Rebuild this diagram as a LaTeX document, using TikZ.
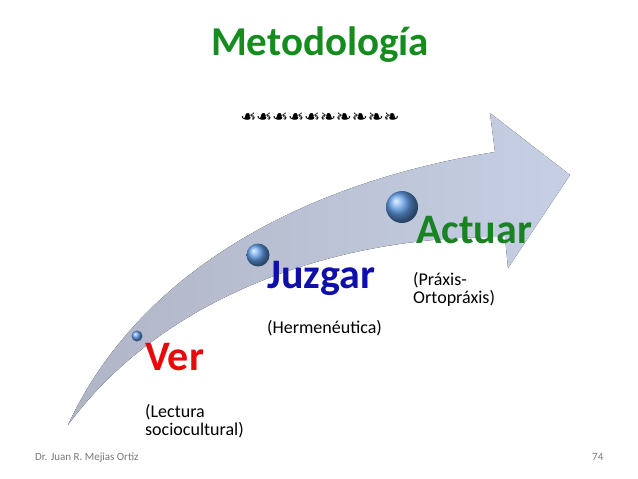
\documentclass[tikz,border=0pt]{standalone}
\usepackage{fontspec}
\setmainfont{Carlito}
\newfontfamily\ornfont{DejaVu Sans}
\usepackage{xcolor}
\usepackage{tikz}
\usetikzlibrary{positioning,calc}

\definecolor{titlegreen}{RGB}{20,140,30}
\definecolor{actgreen}{RGB}{25,130,35}
\definecolor{juzblue}{RGB}{15,15,170}
\definecolor{verred}{RGB}{230,10,10}
\definecolor{arrowtail}{RGB}{176,181,198}
\definecolor{arrowhead}{RGB}{198,207,228}
\definecolor{ballblue}{RGB}{95,155,230}
\definecolor{footgray}{RGB}{120,120,120}

\begin{document}
\begin{tikzpicture}[
    x=1pt, y=-1pt,
    step label/.style={anchor=base west, inner sep=0pt, font=\fontsize{42}{44}\selectfont\bfseries},
    note/.style={anchor=base west, inner sep=0pt, align=left, font=\fontsize{18}{18}\selectfont},
    dot/.style={circle, inner sep=0pt, shading=ball, ball color=ballblue},
    foot/.style={anchor=base west, inner sep=0pt, text=footgray, font=\fontsize{11}{12}\selectfont}
  ]
  \useasboundingbox (0,0) rectangle (638,479);

  % Title
  \node[inner sep=0pt, text=titlegreen, font=\fontsize{41}{43}\selectfont\bfseries] (title) at (320,45) {Metodología};
  \node[inner sep=0pt, font=\ornfont\fontsize{19}{20}\selectfont] (orn) at (320,118)
    {\reflectbox{❧}\reflectbox{❧}\reflectbox{❧}\reflectbox{❧}\reflectbox{❧}❧❧❧❧❧};

  % Arrow
  \fill[left color=arrowtail, right color=arrowhead]
    (68,425) .. controls (135,280) and (290,185) .. (495,152)
    -- (490,113) -- (570,175) -- (508,268) -- (505,237)
    .. controls (330,235) and (160,300) .. (68,425) -- cycle;

  % Balls
  \node[dot, minimum size=11pt] (b1) at (137,336) {};
  \node[dot, minimum size=23pt] (b2) at (258,255) {};
  \node[dot, minimum size=32pt] (b3) at (402,207) {};

  % Steps
  \node[step label, text=verred]   (ver) at (145,370) {Ver};
  \node[step label, text=juzblue]  (juz) at (267,288) {Juzgar};
  \node[step label, text=actgreen] (act) at (416,243) {Actuar};

  % Notes (base = last line)
  \node[note] (n1) at (145,435) {(Lectura\\sociocultural)};
  \node[note] (n2) at (267,333) {(Hermenéutica)};
  \node[note] (n3) at (413,303) {(Práxis-\\Ortopráxis)};

  % Footer
  \node[foot] (auth) at (35,460) {Dr. Juan R. Mejias Ortiz};
  \node[foot] (page) at (592,460) {74};
\end{tikzpicture}
\end{document}
